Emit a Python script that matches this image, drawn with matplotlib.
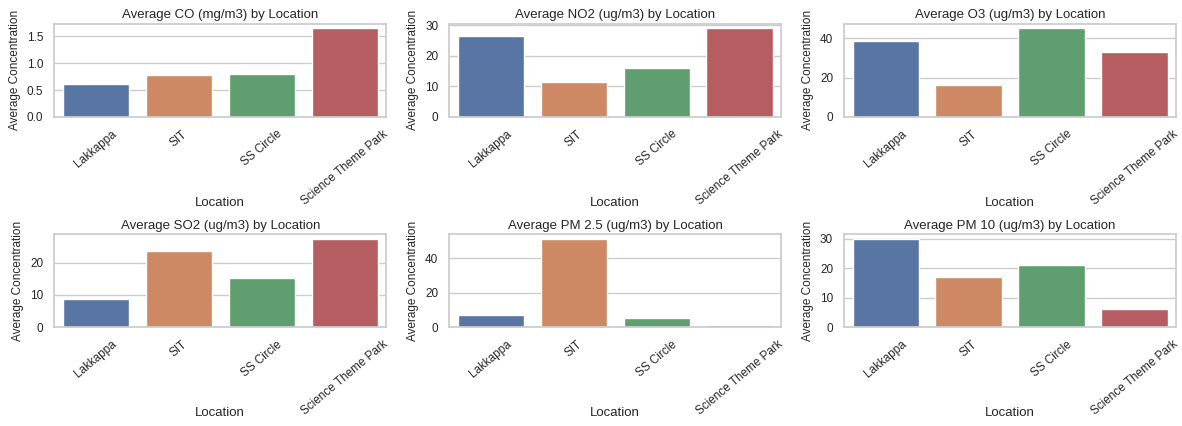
import numpy as np
import matplotlib
matplotlib.use("Agg")
import matplotlib.pyplot as plt
from matplotlib.ticker import MaxNLocator
import seaborn as sns

locations = ['Lakkappa', 'SIT', 'SS Circle', 'Science Theme Park']
co = [0.61, 0.78, 0.79, 1.65]
no2 = [26.5, 11.5, 15.9, 29.0]
o3 = [38.6, 16.1, 45.1, 32.8]
so2 = [8.7, 23.5, 15.3, 27.5]
pm25 = [7.0, 51.3, 5.3, 1.0]
pm10 = [30.0, 16.9, 21.0, 6.0]

titles = ['CO (mg/m3)', 'NO2 (ug/m3)', 'O3 (ug/m3)',
          'SO2 (ug/m3)', 'PM 2.5 (ug/m3)', 'PM 10 (ug/m3)']
series = [co, no2, o3, so2, pm25, pm10]

sns.set_theme(style='whitegrid')
plt.rcParams['font.family'] = ['Liberation Sans', 'DejaVu Sans']

fig, axes = plt.subplots(2, 3, figsize=(11.82, 4.26), dpi=100)
fig.subplots_adjust(left=0.046, right=0.995, top=0.944, bottom=0.232,
                    hspace=1.26, wspace=0.19)

for ax, name, vals in zip(axes.flat, titles, series):
    sns.barplot(x=locations, y=vals, hue=locations, palette='deep',
                legend=False, ax=ax)
    ax.set_title('Average ' + name + ' by Location', fontsize=9.5, pad=4)
    ax.set_xlabel('Location', fontsize=9.5)
    ax.set_ylabel('Average Concentration', fontsize=8.5)
    ax.yaxis.set_major_locator(MaxNLocator(nbins=4, steps=[1, 2, 5, 10]))
    ax.tick_params(axis='both', labelsize=8.5, pad=2)
    ax.tick_params(axis='x', rotation=40)
    ax.xaxis.set_label_coords(0.5, -0.86)

plt.savefig('out.png', dpi=100)
